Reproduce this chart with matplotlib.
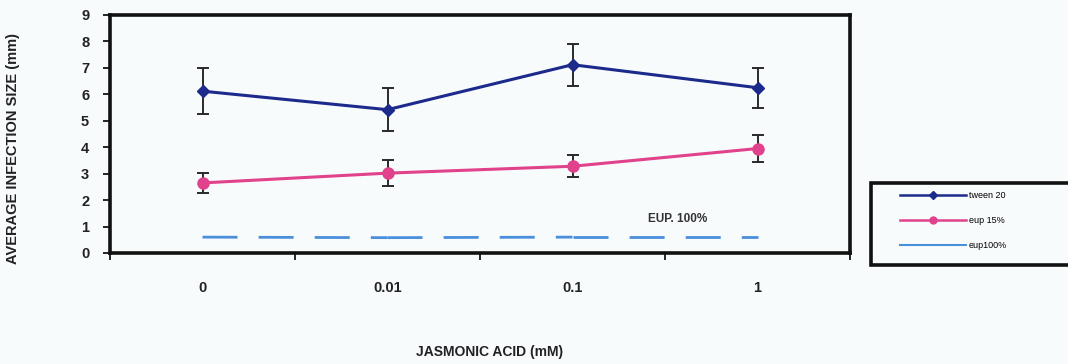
import matplotlib
matplotlib.use("Agg")
import matplotlib.pyplot as plt
from matplotlib.lines import Line2D
from matplotlib.patches import Rectangle

# Jasmonic acid concentrations (mM) and infection measurements (mm)
concentrations = ["0", "0.01", "0.1", "1"]
tween_mean = [6.12, 5.42, 7.12, 6.25]
tween_err = [0.88, 0.82, 0.80, 0.75]
eup15_mean = [2.65, 3.02, 3.28, 3.95]
eup15_err = [0.38, 0.50, 0.42, 0.50]
eup100_mean = [0.60, 0.58, 0.60, 0.60]

legend_labels = ["tween 20", "eup 15%", "eup100%"]

plt.rcParams["font.family"] = ["Liberation Sans", "DejaVu Sans"]

BLUE = "#1c2a8c"
PINK = "#e0428c"
LIGHT = "#4a8fdc"
BG = "#f8fbfc"

W, H = 1068, 364
fig = plt.figure(figsize=(W / 100, H / 100), dpi=100, facecolor=BG)
ax = fig.add_axes([110 / W, 1 - 253 / H, 740 / W, 238 / H])
ax.set_facecolor(BG)

x = list(range(len(concentrations)))

ax.errorbar(x, tween_mean, yerr=tween_err, color=BLUE, lw=2.2, marker="D",
            markersize=6, ecolor="#2a2a2a", elinewidth=1.4, capsize=4.5,
            capthick=1.4, zorder=3)
ax.errorbar(x, eup15_mean, yerr=eup15_err, color=PINK, lw=2.2, marker="o",
            markersize=8, ecolor="#2a2a2a", elinewidth=1.4, capsize=4.5,
            capthick=1.4, zorder=3)
# dashed series: the dash pattern restarts at every data point
for i in range(len(x) - 1):
    ax.plot(x[i:i + 2], eup100_mean[i:i + 2], color=LIGHT, lw=2.0,
            dashes=(12.6, 7.6), zorder=2)

ax.text(2.57, 1.27, "EUP. 100%", fontsize=8.5, fontweight="bold",
        color="#333333", ha="center", va="center")

ax.set_xlim(-0.5, 3.5)
ax.set_ylim(0, 9)
ax.set_yticks(range(0, 10))
ax.set_xticks([i - 0.5 for i in range(len(concentrations) + 1)])
ax.set_xticklabels([])
ax.set_xticks(x, minor=True)
ax.set_xticklabels(concentrations, minor=True)
ax.tick_params(axis="x", which="minor", length=0, pad=20, labelsize=10.5)
ax.tick_params(axis="x", which="major", length=5, width=1.2, direction="out")
ax.tick_params(axis="y", length=5, width=1.2, direction="out", pad=10,
               labelsize=10.5)
for lab in ax.get_xticklabels(minor=True) + ax.get_yticklabels():
    lab.set_fontweight("bold")
    lab.set_color("#222222")

for s in ax.spines.values():
    s.set_linewidth(2.6)
    s.set_color("#111111")

ax.set_ylabel("AVERAGE INFECTION SIZE (mm)", fontsize=10.5, fontweight="bold",
              color="#222222")
ax.yaxis.set_label_coords(-0.122, 0.44)
fig.text(490 / W, 1 - 352 / H, "JASMONIC ACID (mM)", fontsize=10,
         fontweight="bold", color="#222222", ha="center", va="center")

# Legend box: thick black frame running off the right edge
fig.patches.append(Rectangle((871 / W, 1 - 265 / H), 215 / W, 82 / H,
                             transform=fig.transFigure, facecolor=BG,
                             edgecolor="#111111", linewidth=2.6, zorder=1))

handles = [
    Line2D([], [], color=BLUE, lw=1.8, marker="D", markersize=4),
    Line2D([], [], color=PINK, lw=1.8, marker="o", markersize=5),
    Line2D([], [], color=LIGHT, lw=1.5),
]
leg = fig.legend(handles, legend_labels, loc="upper left",
                 bbox_to_anchor=(900 / W, 1 - 191 / H),
                 fontsize=6.5, frameon=False, handlelength=7.3,
                 handletextpad=0.3, labelspacing=1.8, borderpad=0,
                 borderaxespad=0)
leg.set_zorder(2)

fig.savefig("out.png", dpi=100, facecolor=BG)
